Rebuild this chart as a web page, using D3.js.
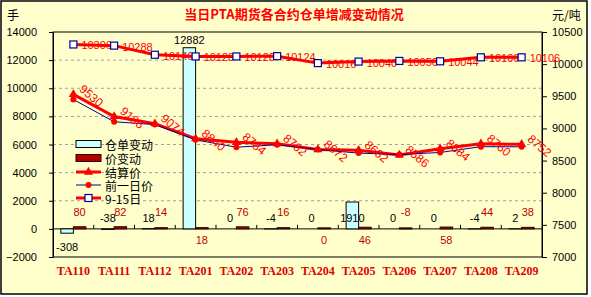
<!DOCTYPE html>
<html>
<head>
<meta charset="utf-8">
<script src="https://cdn.jsdelivr.net/npm/d3@7"></script>
<style>
  body { margin: 0; background: #fff; }
  text { font-family: "Liberation Sans", Arial, sans-serif; }
</style>
</head>
<body>
<div id="chart"></div>
<script>
const width = 591,
height = 297;

const categories = ["TA110", "TA111", "TA112", "TA201", "TA202", "TA203", "TA204", "TA205", "TA206", "TA207", "TA208", "TA209"];
const warrantChange = [-308, -38, 18, 12882, 0, -4, 0, 1910, 0, 0, -4, 2];
const priceChange = [80, 82, 14, 18, 76, 16, 0, 46, -8, 58, 44, 38];
const settlePrice = [9530, 9186, 9074, 8840, 8784, 8762, 8672, 8662, 8586, 8684, 8760, 8752];
const prevPrice = [9450, 9104, 9060, 8822, 8708, 8746, 8672, 8616, 8594, 8626, 8716, 8714];
const price0915 = [10306, 10288, 10146, 10120, 10120, 10124, 10016, 10040, 10050, 10044, 10106, 10106];
const leftTicks = [-2000, 0, 2000, 4000, 6000, 8000, 10000, 12000, 14000];
const rightTicks = [7000, 7500, 8000, 8500, 9000, 9500, 10000, 10500];
const legendNames = ["仓单变动", "价变动", "结算价", "前一日价", "9-15日"];

const plot = {left: 53, right: 542, top: 32, bottom: 257};
const cjk = '"Noto Sans CJK SC", sans-serif';

const svg = d3.select("#chart")
            .append("svg")
            .attr("width", width)
            .attr("height", height);

// background and frame
svg.append("rect")
  .attr("x", 1).attr("y", 1)
  .attr("width", 586).attr("height", 293)
  .attr("fill", "#FFFFCC")
  .attr("stroke", "black")
  .attr("stroke-width", 1.5);

const x = d3.scaleBand()
            .domain(categories)
            .range([plot.left, plot.right]);

const yL = d3.scaleLinear()
            .domain([-2000, 14000])
            .range([plot.bottom, plot.top]);

const yR = d3.scaleLinear()
            .domain([7000, 10500])
            .range([plot.bottom, plot.top]);

const barW = 12.5;
const cx = d => x(d) + x.bandwidth() / 2;

//gridlines
svg.selectAll('grid')
  .data(leftTicks.filter(t => t > -2000 && t < 14000 && t !== 0))
  .join('line')
  .attr('x1', plot.left).attr('x2', plot.right)
  .attr('y1', d => yL(d)).attr('y2', d => yL(d))
  .attr('stroke', '#A0A0A0')
  .attr('stroke-dasharray', '3,3');

// plot border
svg.append("rect")
  .attr("x", plot.left).attr("y", plot.top)
  .attr("width", plot.right - plot.left).attr("height", plot.bottom - plot.top)
  .attr("fill", "none")
  .attr("stroke", "black");

// left axis
const axL = svg.append("g")
  .attr("transform", `translate(${plot.left},0)`)
  .call(d3.axisLeft(yL).tickValues(leftTicks).tickSize(4).tickPadding(12).tickFormat(d3.format("d")));
axL.select(".domain").attr("stroke", "black");
axL.selectAll("text").style("font-size", "11px").attr("fill", "black");

// right axis
const axR = svg.append("g")
  .attr("transform", `translate(${plot.right},0)`)
  .call(d3.axisRight(yR).tickValues(rightTicks).tickSize(5).tickPadding(5).tickFormat(d3.format("d")));
axR.select(".domain").attr("stroke", "black");
axR.selectAll("text").style("font-size", "11px").attr("fill", "black");

// category axis at zero
svg.append("line")
  .attr("x1", plot.left).attr("x2", plot.right)
  .attr("y1", yL(0)).attr("y2", yL(0))
  .attr("stroke", "black");

svg.selectAll('catTicks')
  .data(categories.slice(1))
  .join('line')
  .attr('x1', d => x(d)).attr('x2', d => x(d))
  .attr('y1', yL(0) - 4).attr('y2', yL(0))
  .attr('stroke', 'black');

svg.selectAll('catLabels')
  .data(categories)
  .join('text')
  .attr('x', d => cx(d))
  .attr('y', 275)
  .attr('text-anchor', 'middle')
  .style('font-family', '"Liberation Serif", "Times New Roman", serif')
  .style('font-weight', 'bold')
  .style('font-size', '12px')
  .attr('fill', '#E00000')
  .text(d => d);

//warrant bars
svg.selectAll('warrantBars')
  .data(categories)
  .join('rect')
  .attr('x', d => cx(d) - barW)
  .attr('y', (d, i) => yL(Math.max(0, warrantChange[i])))
  .attr('width', barW)
  .attr('height', (d, i) => Math.abs(yL(warrantChange[i]) - yL(0)))
  .attr('fill', '#CCFFFF')
  .attr('stroke', 'black')
  .attr('stroke-width', 1);

//price change bars
svg.selectAll('priceBars')
  .data(categories)
  .join('rect')
  .attr('x', d => cx(d))
  .attr('y', (d, i) => yL(Math.max(0, priceChange[i])) - 1)
  .attr('width', barW)
  .attr('height', (d, i) => Math.abs(yL(priceChange[i]) - yL(0)) + 1)
  .attr('fill', '#B00000')
  .attr('stroke', '#300000')
  .attr('stroke-width', 1);

// warrant labels
svg.selectAll('warrantLabels')
  .data(categories)
  .join('text')
  .attr('x', d => cx(d) - barW / 2)
  .attr('y', (d, i) => {
      const v = warrantChange[i];
      if (v > 5000) return yL(v) - 8;
      if (v < -100) return yL(v) + 14;
      return 218;
  })
  .attr('text-anchor', 'middle')
  .attr('dominant-baseline', 'central')
  .style('font-size', '11px')
  .attr('fill', 'black')
  .text((d, i) => warrantChange[i]);

// price change labels, a few sit under the axis
const belowIdx = [3, 6, 7, 9];
svg.selectAll('priceLabels')
  .data(categories)
  .join('text')
  .attr('x', d => cx(d) + barW / 2)
  .attr('y', (d, i) => belowIdx.includes(i) ? 240 : 212)
  .attr('text-anchor', 'middle')
  .attr('dominant-baseline', 'central')
  .style('font-size', '11px')
  .attr('fill', '#C00000')
  .text((d, i) => priceChange[i]);

const line = yScale => d3.line()
            .x(d => cx(d[0]))
            .y(d => yScale(d[1]));

const zip = vals => categories.map((c, i) => [c, vals[i]]);

// 9-15 line
svg.append('path')
  .datum(zip(price0915))
  .attr('d', line(yR))
  .attr('fill', 'none')
  .attr('stroke', '#FF0000')
  .attr('stroke-width', 3);

// 9-15 labels
svg.selectAll('labels0915')
  .data(zip(price0915))
  .join('text')
  .attr('x', d => cx(d[0]) + 8)
  .attr('y', d => yR(d[1]) + 5)
  .style('font-size', '11px')
  .attr('fill', '#FF0000')
  .text(d => d[1]);

svg.selectAll('markers0915')
  .data(zip(price0915))
  .join('rect')
  .attr('x', d => cx(d[0]) - 3.5)
  .attr('y', d => yR(d[1]) - 3.5)
  .attr('width', 7).attr('height', 7)
  .attr('fill', 'white')
  .attr('stroke', '#000099')
  .attr('stroke-width', 1.2);

// settlement line
svg.append('path')
  .datum(zip(settlePrice))
  .attr('d', line(yR))
  .attr('fill', 'none')
  .attr('stroke', '#FF0000')
  .attr('stroke-width', 3);

// previous day line
svg.append('path')
  .datum(zip(prevPrice))
  .attr('d', line(yR))
  .attr('fill', 'none')
  .attr('stroke', '#000099')
  .attr('stroke-width', 1);

svg.selectAll('prevMarkers')
  .data(zip(prevPrice))
  .join('circle')
  .attr('cx', d => cx(d[0]))
  .attr('cy', d => yR(d[1]))
  .attr('r', 3)
  .attr('fill', '#FF0000');

svg.selectAll('settleMarkers')
  .data(zip(settlePrice))
  .join('path')
  .attr('d', d3.symbol().type(d3.symbolTriangle).size(36))
  .attr('transform', d => `translate(${cx(d[0])},${yR(d[1])})`)
  .attr('fill', '#FF0000');

// settlement labels, rotated
svg.selectAll('settleLabels')
  .data(zip(settlePrice))
  .join('text')
  .attr('transform', d => `translate(${cx(d[0]) + 5},${yR(d[1]) - 4}) rotate(40)`)
  .style('font-size', '12px')
  .attr('fill', '#FF0000')
  .text(d => d[1]);

// legend
const lg = svg.append('g').attr('transform', 'translate(76,0)');
const legendY = [144, 158, 172, 185, 198];

lg.append('rect').attr('x', 0).attr('y', legendY[0] - 3.5).attr('width', 25).attr('height', 7)
  .attr('fill', '#CCFFFF').attr('stroke', 'black');
lg.append('rect').attr('x', 0).attr('y', legendY[1] - 3.5).attr('width', 25).attr('height', 7)
  .attr('fill', '#B00000').attr('stroke', '#300000');
lg.append('line').attr('x1', 0).attr('x2', 25).attr('y1', legendY[2]).attr('y2', legendY[2])
  .attr('stroke', '#FF0000').attr('stroke-width', 3);
lg.append('path').attr('d', d3.symbol().type(d3.symbolTriangle).size(36))
  .attr('transform', `translate(12.5,${legendY[2]})`).attr('fill', '#FF0000');
lg.append('line').attr('x1', 0).attr('x2', 25).attr('y1', legendY[3]).attr('y2', legendY[3])
  .attr('stroke', '#000099').attr('stroke-width', 1);
lg.append('circle').attr('cx', 12.5).attr('cy', legendY[3]).attr('r', 3).attr('fill', '#FF0000');
lg.append('line').attr('x1', 0).attr('x2', 25).attr('y1', legendY[4]).attr('y2', legendY[4])
  .attr('stroke', '#FF0000').attr('stroke-width', 3);
lg.append('rect').attr('x', 9).attr('y', legendY[4] - 3.5).attr('width', 7).attr('height', 7)
  .attr('fill', 'white').attr('stroke', '#000099').attr('stroke-width', 1.2);

lg.selectAll('legendText')
  .data(legendNames)
  .join('text')
  .attr('x', 29)
  .attr('y', (d, i) => legendY[i])
  .attr('dominant-baseline', 'central')
  .style('font-family', cjk)
  .style('font-size', '12px')
  .attr('fill', 'black')
  .text(d => d);

// title and unit labels
svg.append('text')
  .attr('x', 294).attr('y', 19)
  .attr('text-anchor', 'middle')
  .style('font-family', cjk)
  .style('font-weight', 'bold')
  .style('font-size', '13px')
  .attr('fill', '#FF0000')
  .text('当日PTA期货各合约仓单增减变动情况');

svg.append('text')
  .attr('x', 7).attr('y', 20)
  .style('font-family', cjk)
  .style('font-size', '12px')
  .attr('fill', 'black')
  .text('手');

svg.append('text')
  .attr('x', 552).attr('y', 20)
  .style('font-family', cjk)
  .style('font-size', '12px')
  .attr('fill', 'black')
  .text('元/吨');
</script>
</body>
</html>
